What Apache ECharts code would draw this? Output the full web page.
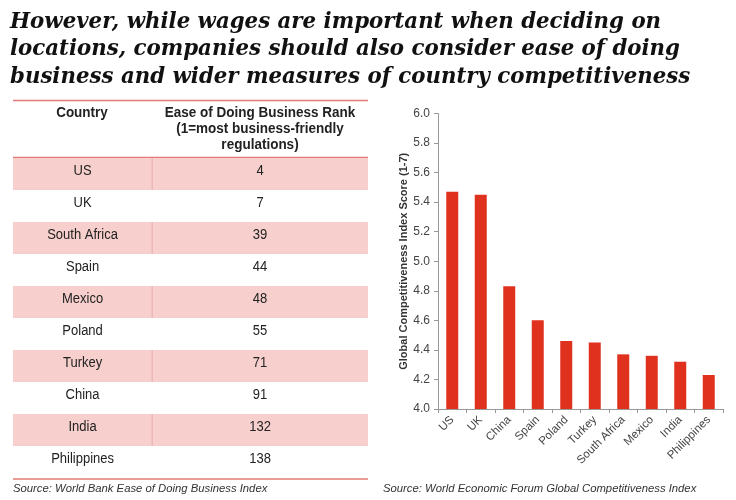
<!DOCTYPE html>
<html><head><meta charset="utf-8">
<script src="https://cdn.jsdelivr.net/npm/echarts@6/dist/echarts.min.js"></script>
<style>html,body{margin:0;padding:0;background:#fff}#c{width:736px;height:500px}</style>
</head><body><div id="c"></div>
<script>
const titleLines = [
  'However, while wages are important when deciding on',
  'locations, companies should also consider ease of doing',
  'business and wider measures of country competitiveness'
];
const tableCountries = ['US','UK','South Africa','Spain','Mexico','Poland','Turkey','China','India','Philippines'];
const tableRanks = [4,7,39,44,48,55,71,91,132,138];
const tableHeader = ['Country','Ease of Doing Business Rank\n(1=most business-friendly\nregulations)'];

const gciCountries = ['US','UK','China','Spain','Poland','Turkey','South Africa','Mexico','India','Philippines'];
const gciScores = [5.47,5.45,4.83,4.60,4.46,4.45,4.37,4.36,4.32,4.23];
const yTicks = {min:4.0, max:6.0, interval:0.2};

const sourceLeft = 'Source: World Bank Ease of Doing Business Index';
const sourceRight = 'Source: World Economic Forum Global Competitiveness Index';

const RED = '#e0301e';
const PINK = '#f7cfcd';
const LINE = '#e37a73';
const COL_SPLIT = 0.392;

const chart = echarts.init(document.getElementById('c'));
const tableData = tableCountries.map((c,i)=>[0.5, i, c, tableRanks[i]]);

chart.setOption({
  animation:false,
  textStyle:{fontFamily:'Liberation Sans, Arial, sans-serif'},
  graphic:[
    {type:'text', x:10, y:8, scaleY:1.08, style:{text:titleLines.join('\n'), font:'bold italic 21.3px "DejaVu Serif", serif', lineHeight:25.5, fill:'#111'}},
    {type:'line', shape:{x1:13,y1:100.5,x2:368,y2:100.5}, style:{stroke:LINE, lineWidth:1.5}},
    {type:'line', shape:{x1:13,y1:157.5,x2:368,y2:157.5}, style:{stroke:LINE, lineWidth:1.5}},
    {type:'line', shape:{x1:13,y1:479,x2:368,y2:479}, style:{stroke:LINE, lineWidth:1.5}},
    {type:'text', x:82, y:113, scaleY:1.1, style:{text:tableHeader[0], font:'bold 13.5px "Liberation Sans", Arial', fill:'#222', align:'center', verticalAlign:'middle'}},
    {type:'text', x:260, y:128.5, scaleY:1.1, style:{text:tableHeader[1], font:'bold 13.5px "Liberation Sans", Arial', lineHeight:14.5, fill:'#222', align:'center', verticalAlign:'middle'}},
    {type:'text', x:13, y:489, style:{text:sourceLeft, font:'italic 11.3px "Liberation Sans", Arial', fill:'#333', verticalAlign:'middle'}},
    {type:'text', x:383, y:489, style:{text:sourceRight, font:'italic 11.3px "Liberation Sans", Arial', fill:'#333', verticalAlign:'middle'}}
  ],
  grid:[
    {left:438, top:113.5, right:13, bottom:91},
    {left:13, top:158, width:355, height:320}
  ],
  xAxis:[
    {type:'category', gridIndex:0, data:gciCountries,
     axisLine:{lineStyle:{color:'#999'}},
     axisTick:{show:true, lineStyle:{color:'#999'}, length:4},
     axisLabel:{rotate:45, color:'#444', fontSize:11.5, margin:9, interval:0}},
    {type:'value', gridIndex:1, min:0, max:1, show:false}
  ],
  yAxis:[
    {type:'value', gridIndex:0, min:yTicks.min, max:yTicks.max, interval:yTicks.interval,
     name:'Global Competitiveness Index Score (1-7)', nameLocation:'middle', nameGap:28,
     nameTextStyle:{fontWeight:'bold', fontSize:11, color:'#333'},
     axisLine:{show:true, lineStyle:{color:'#999'}},
     axisTick:{show:true, lineStyle:{color:'#999'}, length:4},
     splitLine:{show:false},
     axisLabel:{color:'#444', fontSize:12, margin:8, formatter:v=>v.toFixed(1)}},
    {type:'category', gridIndex:1, data:tableCountries, inverse:true, show:false}
  ],
  series:[
    {type:'bar', xAxisIndex:0, yAxisIndex:0, data:gciScores, barWidth:12, itemStyle:{color:RED}},
    {type:'custom', xAxisIndex:1, yAxisIndex:1, data:tableData,
     renderItem:function(params, api){
       const idx = api.value(1);
       const cs = params.coordSys;
       const cy = api.coord([0.5, idx])[1];
       const h = api.size([0,1])[1];
       const splitX = cs.x + cs.width*COL_SPLIT;
       const c1 = cs.x + cs.width*COL_SPLIT/2;
       const c2 = splitX + cs.width*(1-COL_SPLIT)/2;
       const children = [];
       if (idx % 2 === 0) {
         children.push({type:'rect', shape:{x:cs.x, y:cy-h/2, width:cs.width, height:h}, style:{fill:PINK}});
         children.push({type:'line', shape:{x1:splitX, y1:cy-h/2, x2:splitX, y2:cy+h/2}, style:{stroke:'#e8aeaa', lineWidth:1}});
       }
       children.push({type:'text', x:c1, y:cy-3.5, scaleY:1.15, style:{text:tableCountries[idx], font:'13px "Liberation Sans", Arial', fill:'#222', align:'center', verticalAlign:'middle'}});
       children.push({type:'text', x:c2, y:cy-3.5, scaleY:1.15, style:{text:String(tableRanks[idx]), font:'13px "Liberation Sans", Arial', fill:'#222', align:'center', verticalAlign:'middle'}});
       return {type:'group', children};
     }}
  ]
});
</script></body></html>
